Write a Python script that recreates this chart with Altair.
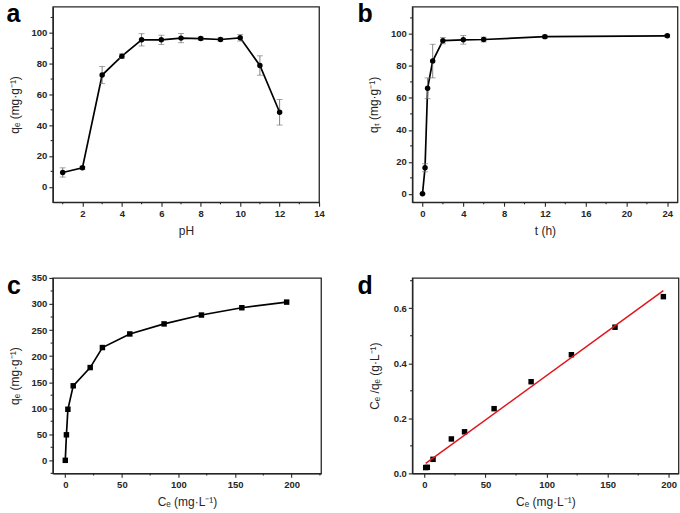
import altair as alt
import pandas as pd

# ---------------- data ----------------
ph = [1, 2, 3, 4, 5, 6, 7, 8, 9, 10, 11, 12]
ph_qe = [9.3, 12.3, 72.6, 84.9, 95.5, 95.5, 96.6, 96.3, 95.7, 96.8, 78.8, 48.4]
ph_err = [3.0, 1.0, 5.6, 1.5, 4.0, 3.0, 3.0, 1.0, 1.0, 2.1, 6.3, 8.3]

t_h = [0, 0.25, 0.5, 1, 2, 4, 6, 12, 24]
t_qt = [0, 16.3, 66.0, 83.0, 95.8, 96.3, 96.5, 98.3, 98.8]
t_err = [0.0, 2.5, 6.5, 10.5, 2.0, 2.7, 1.5, 1.0, 0.8]

ce = [0, 1.0, 2.3, 7.0, 22.0, 32.8, 57.0, 87.3, 120.3, 156.0, 195.6]
qe = [0, 49, 98, 143, 178, 216.4, 242.5, 261.8, 278.8, 292.8, 303.6]

lang_ce = [1.0, 2.3, 7.0, 22.0, 32.8, 57.0, 87.3, 120.3, 156.0, 195.6]
lang_ratio = [0.021, 0.022, 0.051, 0.125, 0.151, 0.235, 0.333, 0.431, 0.531, 0.642]
fit_ce = [1.0, 195.6]
fit_ratio = [0.036, 0.664]

# tick values (major labelled, minor unlabelled)
a_xmaj, a_xmin = [2, 4, 6, 8, 10, 12, 14], [1, 3, 5, 7, 9, 11, 13]
a_ymaj, a_ymin = [0, 20, 40, 60, 80, 100], [10, 30, 50, 70, 90, 110]
b_xmaj, b_xmin = [0, 4, 8, 12, 16, 20, 24], [2, 6, 10, 14, 18, 22]
b_ymaj, b_ymin = [0, 20, 40, 60, 80, 100], [10, 30, 50, 70, 90, 110]
c_xmaj, c_xmin = [0, 50, 100, 150, 200], [25, 75, 125, 175, 225]
c_ymaj, c_ymin = [0, 50, 100, 150, 200, 250, 300, 350], [-25, 25, 75, 125, 175, 225, 275, 325]
d_xmaj, d_xmin = [0, 50, 100, 150, 200], [25, 75, 125, 175]
d_ymaj, d_ymin = [0, 0.2, 0.4, 0.6], [0.1, 0.3, 0.5, 0.7]

FONT = "Liberation Sans"
INK = "#262626"


def axis(values, title, fmt=None, title_pad=8, label_pad=2):
    kw = dict(values=values, title=title, tickSize=4, labelOverlap=False,
              labelFlush=False, grid=False, domain=True, domainColor=INK,
              titlePadding=title_pad, labelPadding=label_pad)
    if fmt:
        kw["format"] = fmt
    return alt.Axis(**kw)


def extras(label, dx, dy, w, h, xs, ys, xax, yax, xmin, ymin):
    """panel letter and minor tick marks (positioned through the scales)."""
    lab = alt.Chart(pd.DataFrame({"t": [label]})).mark_text(
        align="left", baseline="alphabetic", fontSize=25, fontWeight="bold",
        font=FONT, color="black").encode(
        text="t:N", x=alt.value(dx), y=alt.value(dy))
    mx = alt.Chart(pd.DataFrame({"x": xmin})).mark_rule(
        color=INK, strokeWidth=1.1).encode(
        x=alt.X("x:Q", scale=xs, axis=xax), y=alt.value(h), y2=alt.value(h + 2.2))
    my = alt.Chart(pd.DataFrame({"y": ymin})).mark_rule(
        color=INK, strokeWidth=1.1).encode(
        y=alt.Y("y:Q", scale=ys, axis=yax), x=alt.value(0), x2=alt.value(-2.2))
    return [mx, my, lab]


def errpanel(xs, ys, errs, xax, yax, xdom, ydom, w, h, label, dx, dy, xmin, ymin):
    df = pd.DataFrame({
        "x": xs, "y": ys,
        "lo": [a - b for a, b in zip(ys, errs)],
        "hi": [a + b for a, b in zip(ys, errs)],
    })
    Xs = alt.Scale(domain=xdom, nice=False, zero=False)
    Ys = alt.Scale(domain=ydom, nice=False, zero=False)
    X = alt.X("x:Q", scale=Xs, axis=xax)
    base = alt.Chart(df)
    line = base.mark_line(color="black", strokeWidth=1.7).encode(
        x=X, y=alt.Y("y:Q", scale=Ys, axis=yax))
    rule = base.mark_rule(color="#707070", strokeWidth=0.9).encode(
        x=X, y=alt.Y("lo:Q", scale=Ys, axis=yax), y2="hi:Q")
    cap_lo = base.mark_tick(orient="horizontal", size=6, thickness=0.9,
                            color="#707070").encode(
        x=X, y=alt.Y("lo:Q", scale=Ys, axis=yax))
    cap_hi = base.mark_tick(orient="horizontal", size=6, thickness=0.9,
                            color="#707070").encode(
        x=X, y=alt.Y("hi:Q", scale=Ys, axis=yax))
    pts = base.mark_point(filled=True, shape="circle", size=30, color="black",
                          opacity=1).encode(
        x=X, y=alt.Y("y:Q", scale=Ys, axis=yax))
    return alt.layer(line, rule, cap_lo, cap_hi, pts,
                     *extras(label, dx, dy, w, h, Xs, Ys, xax, yax, xmin, ymin)
                     ).properties(width=w, height=h)


# ---- panel a ----
pa = errpanel(
    ph, ph_qe, ph_err,
    axis(a_xmaj, "pH"),
    axis(a_ymaj, "qₑ (mg·g⁻¹)", title_pad=10),
    [0.5, 14], [-10, 117], 267, 196, "a", -46.6, 15.7, a_xmin, a_ymin)

# ---- panel b ----
pb = errpanel(
    t_h, t_qt, t_err,
    axis(b_xmaj, "t (h)"),
    axis(b_ymaj, "qₜ (mg·g⁻¹)", title_pad=10),
    [-1, 25], [-5.2, 117], 266, 196, "b", -55, 15.7, b_xmin, b_ymin)

# ---- panel c ----
dfc = pd.DataFrame({"x": ce, "y": qe})
Xcs = alt.Scale(domain=[-11, 226], nice=False, zero=False)
Ycs = alt.Scale(domain=[-25, 350], nice=False, zero=False)
Xca = axis(c_xmaj, "Cₑ (mg·L⁻¹)")
Yca = axis(c_ymaj, "qₑ (mg·g⁻¹)", title_pad=10)
Xc = alt.X("x:Q", scale=Xcs, axis=Xca)
Yc = alt.Y("y:Q", scale=Ycs, axis=Yca)
pc = alt.layer(
    alt.Chart(dfc).mark_line(color="black", strokeWidth=1.7).encode(x=Xc, y=Yc),
    alt.Chart(dfc).mark_point(filled=True, shape="square", size=30,
                              color="black", opacity=1).encode(x=Xc, y=Yc),
    *extras("c", -46, 15.7, 269, 196, Xcs, Ycs, Xca, Yca, c_xmin, c_ymin),
).properties(width=269, height=196)

# ---- panel d ----
dfd = pd.DataFrame({"x": lang_ce, "y": lang_ratio})
dff = pd.DataFrame({"x": fit_ce, "y": fit_ratio})
Xds = alt.Scale(domain=[-10, 208], nice=False, zero=False)
Yds = alt.Scale(domain=[0, 0.71], nice=False, zero=False)
Xda = axis(d_xmaj, "Cₑ (mg·L⁻¹)")
Yda = axis(d_ymaj, "Cₑ /qₑ (g·L⁻¹)", fmt=".1f", title_pad=12)
Xd = alt.X("x:Q", scale=Xds, axis=Xda)
Yd = alt.Y("y:Q", scale=Yds, axis=Yda)
pd_ = alt.layer(
    alt.Chart(dfd).mark_point(filled=True, shape="square", size=30,
                              color="black", opacity=1).encode(x=Xd, y=Yd),
    alt.Chart(dff).mark_line(color="#e0141b", strokeWidth=1.5).encode(x=Xd, y=Yd),
    *extras("d", -55, 15.7, 267, 196, Xds, Yds, Xda, Yda, d_xmin, d_ymin),
).properties(width=267, height=196)

chart = alt.concat(
    pa, pb, pc, pd_, columns=2,
    spacing=alt.RowColnumber(row=76, column=91.5),
    bounds="flush",
).properties(
    padding={"left": 5, "top": 1, "right": 0, "bottom": 0},
).configure(
    background="white",
).configure_view(
    stroke=INK, strokeWidth=1.3,
).configure_axis(
    labelFont=FONT, labelFontWeight="bold", labelFontSize=9.5, labelColor=INK,
    titleFont=FONT, titleFontWeight="normal", titleFontSize=12, titleColor=INK,
    domainColor=INK, domainWidth=1.3, tickColor=INK, tickWidth=1.1,
)

chart.save("out.html", embed_options={"renderer": "svg", "actions": False})
